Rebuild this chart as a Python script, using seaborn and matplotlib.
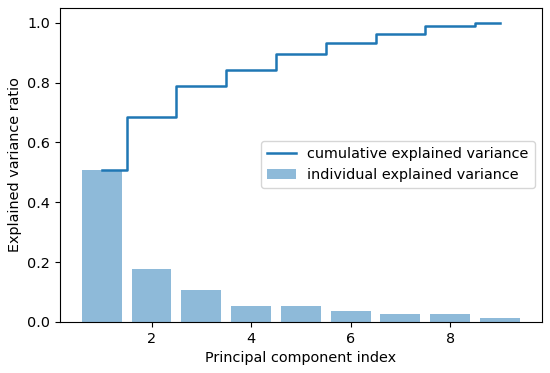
import numpy as np
import pandas as pd
import matplotlib
matplotlib.use("Agg")
import matplotlib.pyplot as plt
import seaborn as sns

components = [1, 2, 3, 4, 5, 6, 7, 8, 9]
individual = [0.508, 0.176, 0.106, 0.053, 0.052, 0.038, 0.028, 0.027, 0.012]
cumulative = [0.508, 0.684, 0.790, 0.843, 0.895, 0.933, 0.961, 0.988, 1.000]
x_ticks = [2, 4, 6, 8]
y_ticks = [0.0, 0.2, 0.4, 0.6, 0.8, 1.0]

plt.rcParams["font.size"] = 10.4

df = pd.DataFrame({"pc": components, "ind": individual, "cum": cumulative})

fig = plt.figure(figsize=(5.5, 3.73), dpi=100)
ax = fig.add_axes([0.109, 0.137, 0.876, 0.842])

sns.barplot(data=df, x="pc", y="ind", native_scale=True, color="C0", alpha=0.5,
            saturation=1, ax=ax, label="individual explained variance")
ax.step(df["pc"], df["cum"], where="mid", color="C0",
        label="cumulative explained variance", linewidth=1.8)

ax.set_xlim(0.16, 9.84)
ax.set_ylim(0, 1.05)
ax.set_xticks(x_ticks)
ax.set_yticks(y_ticks)
ax.set_xlabel("Principal component index")
ax.set_ylabel("Explained variance ratio")

h, l = ax.get_legend_handles_labels()
order = [l.index("cumulative explained variance"), l.index("individual explained variance")]
ax.legend([h[i] for i in order], [l[i] for i in order], loc="center right")

fig.savefig("out.png", dpi=100)
